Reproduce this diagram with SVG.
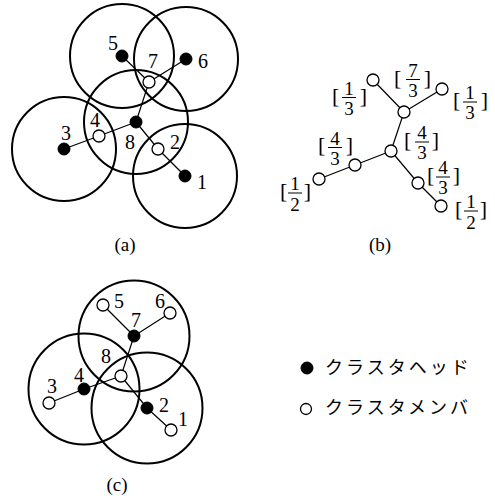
<svg xmlns="http://www.w3.org/2000/svg" width="495" height="498" viewBox="0 0 495 498">
<style>
.rng{fill:none;stroke:#000;stroke-width:2}
.e{stroke:#000;stroke-width:1.2;fill:none}
.h{fill:#000;stroke:#000;stroke-width:1}
.m{fill:#fff;stroke:#000;stroke-width:1.3}
.t{font-family:"Liberation Serif","Times New Roman",serif;font-size:20px;fill:#000;text-anchor:middle}
.f{font-family:"Liberation Serif","Times New Roman",serif;font-size:19px;fill:#000;text-anchor:middle}
.bl{font-family:"Liberation Serif","Times New Roman",serif;font-size:22px;fill:#000;text-anchor:start}
.br{font-family:"Liberation Serif","Times New Roman",serif;font-size:22px;fill:#000;text-anchor:end}
.bar{stroke:#000;stroke-width:1}
.cap{font-family:"Liberation Serif","Times New Roman",serif;font-size:19px;fill:#000;text-anchor:middle}
.jp{font-family:"Noto Sans CJK JP","Noto Sans CJK SC",sans-serif;font-size:18px;letter-spacing:3px;fill:#000}
</style>

<!-- Panel (a) -->
<g id="panel-a">
  <g id="a-ranges">
    <circle class="rng" cx="122" cy="56" r="52"/>
    <circle class="rng" cx="186" cy="59" r="52"/>
    <circle class="rng" cx="136" cy="122" r="52"/>
    <circle class="rng" cx="64" cy="149" r="52"/>
    <circle class="rng" cx="185" cy="176" r="52"/>
  </g>
  <g id="a-connectors">
    <line class="e" x1="122" y1="56" x2="149" y2="82"/>
    <line class="e" x1="186" y1="59" x2="149" y2="82"/>
    <line class="e" x1="149" y1="82" x2="136" y2="122"/>
    <line class="e" x1="136" y1="122" x2="99" y2="136"/>
    <line class="e" x1="99" y1="136" x2="64" y2="149"/>
    <line class="e" x1="136" y1="122" x2="158" y2="149"/>
    <line class="e" x1="158" y1="149" x2="185" y2="176"/>
  </g>
  <g id="a-n1"><circle class="h" cx="185" cy="176" r="6"/><text class="t" x="202" y="189">1</text></g>
  <g id="a-n2"><circle class="m" cx="158" cy="149" r="6"/><text class="t" x="175" y="149">2</text></g>
  <g id="a-n3"><circle class="h" cx="64" cy="149" r="6"/><text class="t" x="66" y="140">3</text></g>
  <g id="a-n4"><circle class="m" cx="99" cy="136" r="6"/><text class="t" x="95" y="127">4</text></g>
  <g id="a-n5"><circle class="h" cx="122" cy="56" r="6"/><text class="t" x="113" y="50">5</text></g>
  <g id="a-n6"><circle class="h" cx="186" cy="59" r="6"/><text class="t" x="203" y="68">6</text></g>
  <g id="a-n7"><circle class="m" cx="149" cy="82" r="6"/><text class="t" x="153" y="68">7</text></g>
  <g id="a-n8"><circle class="h" cx="136" cy="122" r="6"/><text class="t" x="130" y="149">8</text></g>
  <text class="cap" x="125" y="251">(a)</text>
</g>

<!-- Panel (b) -->
<g id="panel-b">
  <g id="b-connectors">
    <line class="e" x1="373" y1="80" x2="404" y2="112"/>
    <line class="e" x1="442" y1="89" x2="404" y2="112"/>
    <line class="e" x1="404" y1="112" x2="391" y2="151"/>
    <line class="e" x1="391" y1="151" x2="355" y2="165"/>
    <line class="e" x1="355" y1="165" x2="319" y2="179"/>
    <line class="e" x1="391" y1="151" x2="418" y2="183"/>
    <line class="e" x1="418" y1="183" x2="441" y2="206"/>
  </g>
  <g id="b-n5"><circle class="m" cx="373" cy="80" r="6"/>
    <text class="bl" x="332" y="103">[</text><text class="f" x="349" y="95">1</text><line class="bar" x1="342" y1="97.5" x2="356" y2="97.5"/><text class="f" x="349" y="115">3</text><text class="br" x="367" y="103">]</text></g>
  <g id="b-n7"><circle class="m" cx="404" cy="112" r="6"/>
    <text class="bl" x="394" y="85">[</text><text class="f" x="413" y="77">7</text><line class="bar" x1="406" y1="79.5" x2="420" y2="79.5"/><text class="f" x="413" y="97">3</text><text class="br" x="431" y="85">]</text></g>
  <g id="b-n6"><circle class="m" cx="442" cy="89" r="6"/>
    <text class="bl" x="453" y="107">[</text><text class="f" x="470" y="99">1</text><line class="bar" x1="463" y1="102" x2="477" y2="102"/><text class="f" x="470" y="119">3</text><text class="br" x="488" y="107">]</text></g>
  <g id="b-n8"><circle class="m" cx="391" cy="151" r="6"/>
    <text class="bl" x="404" y="147">[</text><text class="f" x="422" y="139">4</text><line class="bar" x1="415" y1="142" x2="429" y2="142"/><text class="f" x="422" y="159">3</text><text class="br" x="439" y="147">]</text></g>
  <g id="b-n4"><circle class="m" cx="355" cy="165" r="6"/>
    <text class="bl" x="318" y="152">[</text><text class="f" x="335" y="145">4</text><line class="bar" x1="328" y1="147.5" x2="342" y2="147.5"/><text class="f" x="335" y="165">3</text><text class="br" x="353" y="152">]</text></g>
  <g id="b-n3"><circle class="m" cx="319" cy="179" r="6"/>
    <text class="bl" x="280" y="198">[</text><text class="f" x="295" y="190">1</text><line class="bar" x1="288" y1="193" x2="302" y2="193"/><text class="f" x="295" y="211">2</text><text class="br" x="311" y="198">]</text></g>
  <g id="b-n2"><circle class="m" cx="418" cy="183" r="6"/>
    <text class="bl" x="427" y="182">[</text><text class="f" x="443" y="174">4</text><line class="bar" x1="436" y1="177" x2="450" y2="177"/><text class="f" x="443" y="194">3</text><text class="br" x="460" y="182">]</text></g>
  <g id="b-n1"><circle class="m" cx="441" cy="206" r="6"/>
    <text class="bl" x="455" y="216">[</text><text class="f" x="471" y="208">1</text><line class="bar" x1="464" y1="211" x2="478" y2="211"/><text class="f" x="471" y="229">2</text><text class="br" x="487" y="216">]</text></g>
  <text class="cap" x="380" y="251">(b)</text>
</g>

<!-- Panel (c) -->
<g id="panel-c">
  <g id="c-ranges">
    <circle class="rng" cx="134" cy="336" r="55.5"/>
    <circle class="rng" cx="84" cy="389" r="55.5"/>
    <circle class="rng" cx="147" cy="408" r="55.5"/>
  </g>
  <g id="c-connectors">
    <line class="e" x1="103" y1="305" x2="134" y2="336"/>
    <line class="e" x1="170" y1="313" x2="134" y2="336"/>
    <line class="e" x1="134" y1="336" x2="121" y2="376"/>
    <line class="e" x1="121" y1="376" x2="84" y2="389"/>
    <line class="e" x1="84" y1="389" x2="49" y2="403"/>
    <line class="e" x1="121" y1="376" x2="147" y2="408"/>
    <line class="e" x1="147" y1="408" x2="171" y2="430"/>
  </g>
  <g id="c-n1"><circle class="m" cx="171" cy="430" r="6"/><text class="t" x="183" y="426">1</text></g>
  <g id="c-n2"><circle class="h" cx="147" cy="408" r="6"/><text class="t" x="164" y="412">2</text></g>
  <g id="c-n3"><circle class="m" cx="49" cy="403" r="6"/><text class="t" x="52" y="393">3</text></g>
  <g id="c-n4"><circle class="h" cx="84" cy="389" r="6"/><text class="t" x="79" y="382">4</text></g>
  <g id="c-n5"><circle class="m" cx="103" cy="305" r="6"/><text class="t" x="119" y="308">5</text></g>
  <g id="c-n6"><circle class="m" cx="170" cy="313" r="6"/><text class="t" x="160" y="308">6</text></g>
  <g id="c-n7"><circle class="h" cx="134" cy="336" r="6"/><text class="t" x="136" y="327">7</text></g>
  <g id="c-n8"><circle class="m" cx="121" cy="376" r="6"/><text class="t" x="106" y="363">8</text></g>
  <text class="cap" x="117" y="491">(c)</text>
</g>

<!-- Legend -->
<g id="legend">
  <g id="legend-head"><circle class="h" cx="307" cy="368" r="6"/><text class="jp" x="325" y="374">クラスタヘッド</text></g>
  <g id="legend-member"><circle class="m" cx="306" cy="409" r="5.5"/><text class="jp" x="325" y="414">クラスタメンバ</text></g>
</g>
</svg>
